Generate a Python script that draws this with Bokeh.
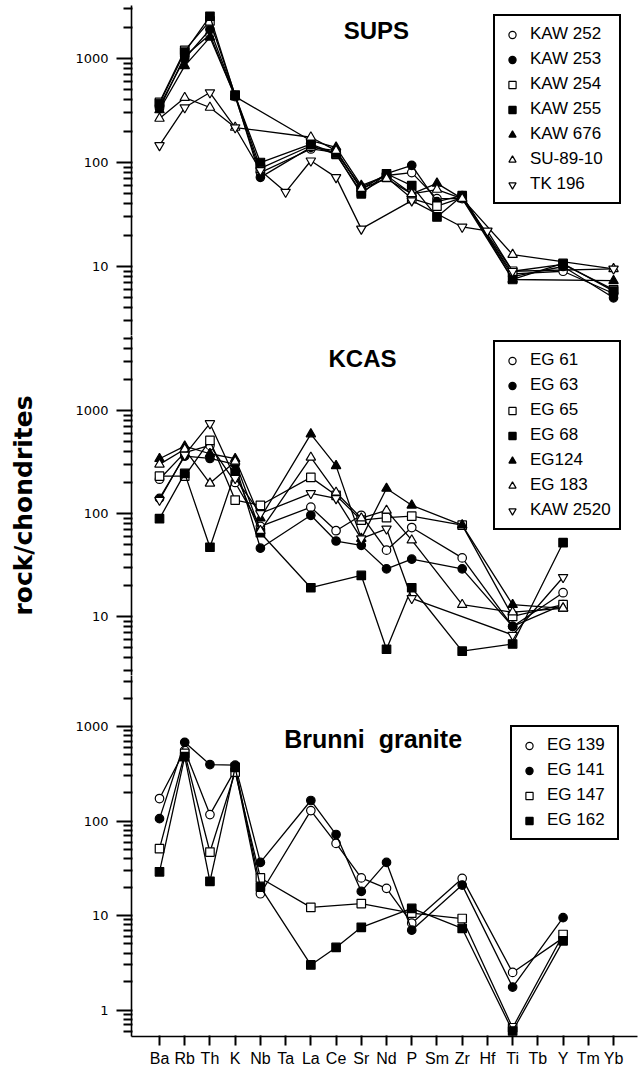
from bokeh.plotting import figure
from bokeh.models import FixedTicker, Legend, LegendItem, Label
from bokeh.layouts import column
from bokeh.embed import file_html
from bokeh.resources import INLINE

elements = ["Ba", "Rb", "Th", "K", "Nb", "Ta", "La", "Ce", "Sr", "Nd",
            "P", "Sm", "Zr", "Hf", "Ti", "Tb", "Y", "Tm", "Yb"]
N = None

# ---------------- SUPS ----------------
kaw252 = [330, 1050, 1700, 430, 80, N, 135, 125, 58, 75, 80, 45, 45, N, 8.5, N, 9.0, N, 5.5]
kaw253 = [350, 1000, 1900, 440, 72, N, 140, 130, 55, 78, 94, 42, 48, N, 8.0, N, 10.0, N, 5.0]
kaw254 = [380, 1200, 2300, 445, 88, N, 145, 120, 52, 72, 45, 38, 46, N, 9.0, N, 10.5, N, 6.0]
kaw255 = [370, 1150, 2550, 440, 100, N, 150, 122, 50, 78, 60, 30, 48, N, 7.5, N, 10.7, N, 5.8]
kaw676 = [320, 850, 1600, 430, N, N, 162, 140, 60, 75, 50, 63, 45, N, 7.5, N, N, N, 7.3]
su8910 = [265, 420, 338, 217, N, N, 175, 130, 56, 70, 50, 55, 45, N, 13, N, N, N, 9.5]
tk196 = [146, 338, 471, 217, 84, 52, 104, 72, 23, N, 43, N, 24, 22, 9.0, N, N, N, 9.5]

# ---------------- KCAS ----------------
eg61 = [215, 390, 458, 200, 75, N, 115, 68, 96, 44, 73, N, 37, N, 8.0, N, 17, N, N]
eg63 = [140, 360, 342, 300, 46, N, 96, 54, 49, 29, 36, N, 29, N, 8.0, N, 13, N, N]
eg65 = [230, 230, 512, 135, 120, N, 224, 150, 86, 91, 94, N, 77, N, 10, N, 13, N, N]
eg68 = [89, 245, 47, 250, 65, N, 19, N, 25, 4.8, 19, N, 4.6, N, 5.4, N, 52, N, N]
eg124 = [340, 450, 380, 340, 90, N, 590, 290, 57, 175, 120, N, 77, N, 13, N, 12, N, N]
eg183 = [300, 420, 196, 320, 68, N, 350, 160, 90, 107, 55, N, 13, N, 11, N, 12, N, N]
kaw2520 = [135, 370, 748, 220, 100, N, 157, 140, 57, 71, 15, N, N, N, 6.6, N, 24, N, N]

# ---------------- Brunni granite ----------------
eg139 = [173, 560, 117, 350, 17, N, 129, 58, 25, 19.4, 8.3, N, 24.7, N, 2.5, N, 5.8, N, N]
eg141 = [106, 680, 396, 390, 36.5, N, 165, 72, 18, 36.5, 7.0, N, 21, N, 1.75, N, 9.5, N, N]
eg147 = [51, 520, 47, 330, 25, N, 12.2, N, 13.4, N, 10.6, N, 9.3, N, 0.65, N, 6.3, N, N]
eg162 = [29, 480, 23, 370, 20, N, 3.0, 4.6, 7.5, N, 11.9, N, 7.3, N, 0.6, N, 5.4, N, N]

sups_series = [("KAW 252", kaw252, "circle", False), ("KAW 253", kaw253, "circle", True),
               ("KAW 254", kaw254, "square", False), ("KAW 255", kaw255, "square", True),
               ("KAW 676", kaw676, "triangle", True), ("SU-89-10", su8910, "triangle", False),
               ("TK 196", tk196, "inverted_triangle", False)]
kcas_series = [("EG 61", eg61, "circle", False), ("EG 63", eg63, "circle", True),
               ("EG 65", eg65, "square", False), ("EG 68", eg68, "square", True),
               ("EG124", eg124, "triangle", True), ("EG 183", eg183, "triangle", False),
               ("KAW 2520", kaw2520, "inverted_triangle", False)]
brunni_series = [("EG 139", eg139, "circle", False), ("EG 141", eg141, "circle", True),
                 ("EG 147", eg147, "square", False), ("EG 162", eg162, "square", True)]

decade_ticks = [1, 10, 100, 1000]
decade_labels = ["1", "10", "100", "1000"]
X_RANGE = (-1.11, 18.95)
FRAME_W = 506
SIZES = {"circle": 8.5, "square": 8.5, "triangle": 9.5, "inverted_triangle": 9.5}
MINOR = [round(m * 10 ** e, 6) for e in range(-1, 4) for m in range(2, 10)]


def make_fig(y_range, frame_h, with_x=False, top=0):
    p = figure(frame_width=FRAME_W, frame_height=frame_h, x_range=X_RANGE, y_range=y_range,
               y_axis_type="log", x_axis_location="below" if with_x else None,
               output_backend="svg", toolbar_location=None,
               min_border_left=131, min_border_right=4, min_border_top=top, min_border_bottom=0)
    p.outline_line_color = None
    p.xgrid.visible = False
    p.ygrid.visible = False
    ya = p.yaxis[0]
    ya.ticker = FixedTicker(ticks=decade_ticks, minor_ticks=MINOR)
    ya.major_label_overrides = {t: s for t, s in zip(decade_ticks, decade_labels)}
    ya.axis_line_width = 1.6
    ya.major_tick_line_width = 2
    ya.major_tick_line_color = "black"
    ya.minor_tick_line_width = 2
    ya.minor_tick_line_color = "black"
    ya.major_tick_out = 15
    ya.major_tick_in = 1
    ya.minor_tick_out = 8
    ya.minor_tick_in = 1
    ya.major_label_standoff = 8
    ya.major_label_text_font = "DejaVu Sans"
    ya.major_label_text_font_size = "13px"
    ya.major_label_text_color = "black"
    if with_x:
        xa = p.xaxis[0]
        xa.ticker = FixedTicker(ticks=list(range(len(elements))))
        xa.major_label_overrides = {i: e for i, e in enumerate(elements)}
        xa.axis_line_width = 1.6
        xa.major_tick_line_width = 2
        xa.major_tick_line_color = "black"
        xa.major_tick_out = 9
        xa.major_tick_in = 1
        xa.minor_tick_line_color = None
        xa.major_label_standoff = 4
        xa.major_label_text_font = "Liberation Sans"
        xa.major_label_text_font_size = "16px"
        xa.major_label_text_color = "black"
    return p


def add_series(p, series, legend_loc, label_w):
    items = []
    for name, vals, marker, filled in series:
        xs = [i for i, v in enumerate(vals) if v is not None]
        ys = [v for v in vals if v is not None]
        p.line(xs, ys, line_color="black", line_width=1.3)
        r = p.scatter(xs, ys, marker=marker, size=SIZES[marker],
                      fill_color="black" if filled else "white",
                      line_color="black", line_width=1.2)
        items.append(LegendItem(label=name, renderers=[r]))
    leg = Legend(items=items, location=legend_loc,
                 label_text_font="Liberation Sans", label_text_font_size="17px",
                 label_text_color="black", label_standoff=9, label_width=label_w,
                 glyph_width=18, glyph_height=19, label_height=19,
                 spacing=5, padding=8, margin=0,
                 border_line_color="black", border_line_width=2, border_line_alpha=1.0,
                 background_fill_color="white", background_fill_alpha=1.0)
    p.add_layout(leg)


def add_title(p, text, x, y, align="left", size="24px"):
    p.add_layout(Label(x=x, y=y, text=text, text_font="Liberation Sans",
                       text_font_style="bold", text_font_size=size,
                       text_baseline="middle", text_align=align, text_color="black"))


p1 = make_fig((2.17, 3236), 330, top=5)
add_series(p1, sups_series, (362, 131), 81)
add_title(p1, "SUPS", 7.30, 1858)

p2 = make_fig((2.67, 5346), 340)
add_series(p2, kcas_series, (362, 145), 81)
add_title(p2, "KCAS", 6.70, 3200)
p2.yaxis.axis_label = "rock/chondrites"
p2.yaxis.axis_label_text_font = "DejaVu Sans"
p2.yaxis.axis_label_text_font_style = "bold"
p2.yaxis.axis_label_text_font_size = "25px"
p2.yaxis.axis_label_text_color = "black"
p2.yaxis.axis_label_standoff = 34

p3 = make_fig((0.525, 3467), 361, with_x=True)
add_series(p3, brunni_series, (379, 196), 62)
add_title(p3, "Brunni \u00a0granite", 8.47, 747, align="center", size="25px")

layout = column(p1, p2, p3, spacing=0)
open("out.html", "w").write(file_html(layout, INLINE))
